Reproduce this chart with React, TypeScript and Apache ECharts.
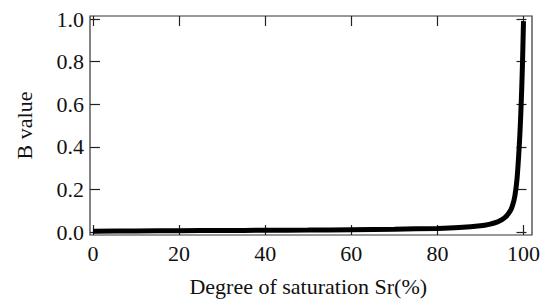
import React, { useEffect, useRef } from "react";
import * as echarts from "echarts";

const saturation = [0, 10, 20, 30, 40, 50, 60, 70, 80, 85, 90, 92, 94, 95, 96, 97, 97.5, 98, 98.5, 99, 99.3, 99.6, 99.8, 100];
const bValue = [0.004, 0.005, 0.006, 0.007, 0.008, 0.009, 0.011, 0.013, 0.017, 0.021, 0.029, 0.036, 0.048, 0.058, 0.074, 0.102, 0.128, 0.17, 0.25, 0.4, 0.52, 0.68, 0.82, 0.99];
const xRange = [0, 100];
const yRange = [0, 1];
const xStep = 20;
const yStep = 0.2;

const FONT = "Liberation Serif";

export default function App() {
  const ref = useRef<HTMLDivElement>(null);
  useEffect(() => {
    const chart = echarts.init(ref.current!, null, { renderer: "svg" });
    const axisTick = { show: true, inside: true, length: 10, lineStyle: { color: "#222", width: 1.2 } };
    const labelStyle = { fontFamily: FONT, fontSize: 22, color: "#111" };
    const base = { type: "value", gridIndex: 0, splitLine: { show: false } };
    const hidden = { type: "value", gridIndex: 1, show: false, min: 0, max: 1 };
    chart.setOption({
      animation: false,
      textStyle: { fontFamily: FONT },
      grid: [
        { left: 93, top: 19, right: 14, bottom: 70 },
        { left: 90, top: 16, right: 11, bottom: 67, show: true, borderColor: "#333", borderWidth: 1.2, backgroundColor: "transparent" },
      ],
      xAxis: [
        {
          ...base, position: "bottom", offset: 3, min: xRange[0], max: xRange[1], interval: xStep,
          name: "Degree of saturation Sr(%)", nameLocation: "middle", nameGap: 40,
          nameTextStyle: { ...labelStyle },
          axisLine: { show: false, onZero: false }, axisTick,
          axisLabel: { ...labelStyle, margin: 7 },
        },
        {
          ...base, position: "top", offset: 3, min: xRange[0], max: xRange[1], interval: xStep,
          axisLine: { show: false, onZero: false }, axisTick, axisLabel: { show: false },
        },
        { ...hidden },
      ],
      yAxis: [
        {
          ...base, position: "left", offset: 3, min: yRange[0], max: yRange[1], interval: yStep,
          name: "B value", nameLocation: "middle", nameGap: 55, nameRotate: 90,
          nameTextStyle: { ...labelStyle },
          axisLine: { show: false, onZero: false }, axisTick,
          axisLabel: { ...labelStyle, margin: 6, formatter: (v: number) => v.toFixed(1) },
        },
        {
          ...base, position: "right", offset: 3, min: yRange[0], max: yRange[1], interval: yStep,
          axisLine: { show: false, onZero: false }, axisTick, axisLabel: { show: false },
        },
        { ...hidden },
      ],
      series: [
        {
          type: "line",
          data: saturation.map((s, i) => [s, bValue[i]]),
          smooth: 0.3,
          showSymbol: false,
          clip: false,
          lineStyle: { color: "#000", width: 5 },
          xAxisIndex: 0, yAxisIndex: 0,
        },
      ],
    });
    return () => chart.dispose();
  }, []);
  return <div ref={ref} style={{ width: 543, height: 302, position: "absolute", left: 0, top: 0, background: "#fff" }} />;
}
